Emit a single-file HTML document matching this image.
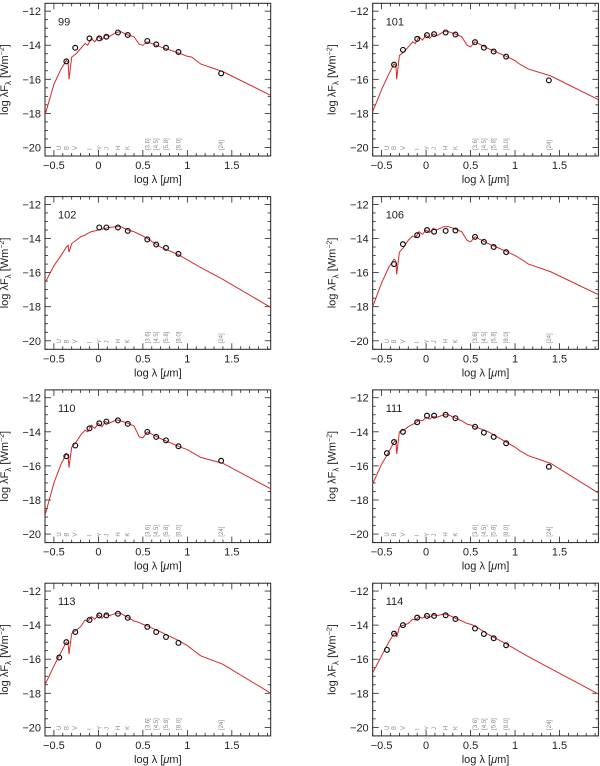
<!DOCTYPE html>
<html><head><meta charset="utf-8"><style>
html,body{margin:0;padding:0;background:#fff;}
svg{display:block;font-family:"Liberation Sans",sans-serif;}
</style></head><body>
<svg id="c" width="600" height="766" viewBox="0 0 600 766" xmlns="http://www.w3.org/2000/svg"></svg>
<script>
// ---- data ----
const panelIds = ["99","101","102","106","110","111","113","114"];
const modelX = [-0.6,-0.5,-0.42,-0.36,-0.34,-0.33,-0.3,-0.25,-0.2,-0.15,-0.12,-0.08,-0.04,0,0.04,0.08,0.12,0.2,0.25,0.33,0.4,0.46,0.5,0.55,0.7,0.9,1.0,1.05,1.15,1.4,1.94];
const model99  = [-18.1,-16.3,-15.4,-14.9,-15.0,-16.0,-14.7,-14.5,-14.2,-13.9,-14.0,-13.6,-13.8,-13.5,-13.7,-13.4,-13.5,-13.25,-13.2,-13.4,-13.5,-13.95,-14.0,-13.8,-14.1,-14.45,-14.65,-14.7,-15.1,-15.55,-16.95];
const model101 = [-17.9,-16.6,-15.7,-15.1,-15.2,-16.0,-14.6,-14.4,-14.1,-13.8,-13.9,-13.5,-13.7,-13.4,-13.6,-13.35,-13.45,-13.2,-13.2,-13.35,-13.5,-14.0,-14.1,-13.8,-14.2,-14.65,-14.9,-15.1,-15.4,-15.8,-17.2];
const model102 = [-16.6,-15.6,-15.0,-14.5,-14.4,-14.8,-14.3,-14.1,-13.9,-13.8,-13.7,-13.6,-13.55,-13.5,-13.45,-13.4,-13.35,-13.3,-13.3,-13.5,-13.6,-13.75,-13.85,-14.0,-14.5,-14.95,-15.25,-15.4,-15.7,-16.4,-18.05];
const model106 = [-18.0,-16.6,-15.7,-15.2,-15.3,-16.1,-14.8,-14.5,-14.1,-13.85,-13.95,-13.6,-13.75,-13.5,-13.65,-13.4,-13.5,-13.3,-13.3,-13.45,-13.6,-14.1,-14.2,-13.9,-14.3,-14.75,-15.0,-15.15,-15.5,-15.95,-17.3];
const model110 = [-18.9,-17.0,-15.9,-15.3,-15.4,-16.1,-14.9,-14.6,-14.2,-13.9,-14.0,-13.6,-13.8,-13.5,-13.7,-13.4,-13.5,-13.3,-13.35,-13.5,-13.65,-14.3,-14.35,-14.0,-14.4,-14.85,-15.05,-15.2,-15.5,-15.85,-17.35];
const model111 = [-17.05,-15.9,-15.2,-14.6,-14.5,-15.3,-14.0,-13.9,-13.7,-13.55,-13.5,-13.3,-13.35,-13.15,-13.25,-13.1,-13.15,-13.0,-13.0,-13.2,-13.35,-13.55,-13.6,-13.7,-14.0,-14.6,-14.9,-15.1,-15.4,-15.85,-17.6];
const model113 = [-17.5,-16.4,-15.6,-15.0,-15.1,-15.7,-14.5,-14.3,-14.1,-13.7,-13.8,-13.5,-13.65,-13.4,-13.6,-13.35,-13.45,-13.3,-13.3,-13.55,-13.75,-13.85,-13.95,-14.05,-14.4,-14.9,-15.2,-15.4,-15.8,-16.3,-18.0];
const model114 = [-16.8,-15.8,-15.0,-14.5,-14.45,-14.7,-14.1,-14.0,-13.9,-13.65,-13.7,-13.5,-13.6,-13.45,-13.55,-13.4,-13.45,-13.35,-13.4,-13.6,-13.75,-13.9,-13.95,-14.05,-14.55,-15.1,-15.4,-15.55,-15.85,-16.55,-18.05];
const models = [model99,model101,model102,model106,model110,model111,model113,model114];
// photometric bands
const bandNames = ["U","B","V","I","Y","J","H","K","[3.6]","[4.5]","[5.8]","[8.0]","[24]"];
const bandX = [-0.44,-0.36,-0.26,-0.1,0.01,0.09,0.22,0.33,0.55,0.65,0.76,0.9,1.38];
// observed fluxes (null = none)
const obs99  = [null,-14.95,-14.15,-13.6,-13.6,-13.5,-13.25,-13.4,-13.75,-13.95,-14.15,-14.4,-15.65];
const obs101 = [null,-15.14,-14.27,-13.63,-13.41,-13.35,-13.25,-13.37,-13.82,-14.14,-14.37,-14.67,-16.06];
const obs102 = [null,null,null,null,-13.35,-13.35,-13.35,-13.55,-14.05,-14.35,-14.55,-14.9,null];
const obs106 = [null,-15.5,-14.33,-13.8,-13.5,-13.6,-13.55,-13.53,-13.9,-14.2,-14.5,-14.8,null];
const obs110 = [null,-15.43,-14.8,-13.8,-13.5,-13.4,-13.33,-13.53,-14.0,-14.3,-14.5,-14.85,-15.7];
const obs111 = [-15.25,-14.6,-14.0,-13.44,-13.05,-13.05,-13.0,-13.2,-13.7,-14.05,-14.3,-14.67,-16.05];
const obs113 = [-15.9,-15.0,-14.4,-13.7,-13.43,-13.43,-13.33,-13.57,-14.1,-14.4,-14.7,-15.04,null];
const obs114 = [-15.45,-14.5,-14.0,-13.56,-13.46,-13.46,-13.42,-13.64,-14.2,-14.52,-14.77,-15.18,null];
const observations = [obs99,obs101,obs102,obs106,obs110,obs111,obs113,obs114];
const xTicks = [-0.5,0,0.5,1,1.5];
const xTickLabels = ["−0.5","0","0.5","1","1.5"];
const yTicks = [-12,-14,-16,-18,-20];
const yTickLabels = ["−12","−14","−16","−18","−20"];

// ---- layout ----
const NS="http://www.w3.org/2000/svg";
const svg=document.getElementById('c');
const X0=[45,372.7], W=225.7, H=152.7, TOP=3.3, ROWH=193.3;
const XMIN=-0.6, XMAX=1.937, YMIN=-20.5, YMAX=-11.54;
function mk(tag,attrs,parent){const e=document.createElementNS(NS,tag);for(const k in attrs)e.setAttribute(k,attrs[k]);(parent||svg).appendChild(e);return e;}

panelIds.forEach((id,p)=>{
  const col=p%2,row=Math.floor(p/2);
  const px=X0[col], py=TOP+row*ROWH;
  const sx=v=>px+(v-XMIN)/(XMAX-XMIN)*W;
  const sy=v=>py+(YMAX-v)/(YMAX-YMIN)*H;
  const g=mk('g',{});
  
  
  const clipId='clip'+p;
  const cp=mk('clipPath',{id:clipId},g);mk('rect',{x:px,y:py,width:W,height:H},cp);
  // ticks
  const tg=mk('g',{stroke:'#222','stroke-width':0.8},g);
  
  
  for(let i=-6;i<=19;i++){const v=i/10;const x=sx(v);if(x<px-0.1||x>px+W+0.1)continue;const L=(i%5===0)?6:3;
    mk('line',{x1:x,y1:py+H,x2:x,y2:py+H-L},tg);mk('line',{x1:x,y1:py,x2:x,y2:py+L},tg);}
  for(let i=-41;i<=-23;i++){const v=i/2;const y=sy(v);if(y<py||y>py+H)continue;const L=(i%4===0)?6:3;
    mk('line',{x1:px,y1:y,x2:px+L,y2:y},tg);mk('line',{x1:px+W,y1:y,x2:px+W-L,y2:y},tg);}
  const fr=mk('rect',{x:px,y:py,width:W,height:H,fill:'none',stroke:'#222','stroke-width':1},g);
  
  
  xTicks.forEach((v,i)=>{const t=mk('text',{x:sx(v),y:py+H+13,'font-size':11,'text-anchor':'middle',fill:'#222'},g);t.textContent=xTickLabels[i];
    
    });
  yTicks.forEach((v,i)=>{const t=mk('text',{x:px-4,y:sy(v)+4,'font-size':11,'text-anchor':'end',fill:'#222'},g);t.textContent=yTickLabels[i];
    
    });
  const xl=mk('text',{x:px+W/2,y:py+H+27,'font-size':11,'text-anchor':'middle',fill:'#222'},g);
  xl.innerHTML='log λ [<tspan font-style="italic">μ</tspan>m]';
  
  
  const yx=px-37, yy=py+H/2;
  const yl=mk('text',{x:yx,y:yy,'font-size':11,'text-anchor':'middle',fill:'#222',transform:`rotate(-90 ${yx} ${yy})`},g);
  yl.innerHTML='log λF<tspan font-size="8" dy="3">λ</tspan><tspan dy="-3"> [Wm</tspan><tspan font-size="7" dy="-4">−2</tspan><tspan dy="4">]</tspan>';
  
  
  const lab=mk('text',{x:px+13,y:py+22,'font-size':11,fill:'#222'},g);lab.textContent=id;
  
  
  // band labels
  bandNames.forEach((b,i)=>{const x=sx(bandX[i])+2;const y=sy(-20.15);
    const t=mk('text',{x:x,y:y,'font-size':6,fill:'#888',transform:`rotate(-90 ${x} ${y})`},g);t.textContent=b;
    
    });
  // model curve
  const m=models[p];
  const d=modelX.map((v,i)=>(i?'L':'M')+sx(v).toFixed(2)+' '+sy(m[i]).toFixed(2)).join(' ');
  const path=mk('path',{d:d,fill:'none',stroke:'#d42a2a','stroke-width':1,'clip-path':`url(#${clipId})`},g);
  
  
  // observations
  const o=observations[p];
  o.forEach((v,i)=>{if(v===null)return;
    const c=mk('circle',{cx:sx(bandX[i]),cy:sy(v),r:2.4,fill:'none',stroke:'#111','stroke-width':1.2},g);
    
    });
});
</script>
</body></html>
